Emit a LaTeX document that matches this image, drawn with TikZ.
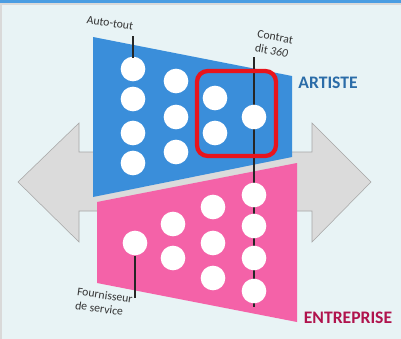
\documentclass[tikz,border=0pt]{standalone}
\usepackage{fontspec}
\setmainfont{Carlito}
\definecolor{panel}{HTML}{E8F3F5}
\definecolor{topbar}{HTML}{4A9DE2}
\definecolor{artblue}{HTML}{3A8EDA}
\definecolor{entpink}{HTML}{F462A8}
\definecolor{artiste}{HTML}{2B6CA8}
\definecolor{entreprise}{HTML}{B0134D}
\definecolor{boxred}{HTML}{E8141C}
\begin{document}
\begin{tikzpicture}[x=0.75pt,y=-0.75pt]
  \tikzstyle{dot}=[circle,fill=white,inner sep=0pt,minimum size=18.5pt]
  \tikzstyle{note}=[font=\fontsize{8.8}{10.5}\selectfont,text=black!80,align=left,inner sep=0pt]
  \tikzstyle{side}=[font=\fontsize{13.2}{14}\selectfont\bfseries,inner sep=0pt]
  \tikzstyle{pointer}=[black!85,line width=1.2pt]

  \useasboundingbox (0,0) rectangle (401,339);
  \fill[panel] (0,0) rectangle (401,339);
  \fill[black!15] (0,0) rectangle (2.5,339);
  \fill[black!15] (0,3) rectangle (401,5);
  \fill[topbar] (0,0) rectangle (401,3.5);

  \filldraw[fill=black!14,draw=black!35,line width=0.4pt]
    (18,182) -- (79,123) -- (79,152) -- (312,152) -- (312,123) -- (371,182)
    -- (312,242) -- (312,211) -- (79,211) -- (79,242) -- cycle;

  \fill[artblue] (93,37) -- (292,76) -- (292,157) -- (93,197) -- cycle;
  \fill[entpink] (97,202) -- (297,163) -- (297,322) -- (97,283) -- cycle;

  \coordinate (top360) at (254,57);
  \coordinate (end360) at (254,307);
  \draw[pointer] (top360) -- (end360);

  \foreach \n/\x/\y in {a1/133/69, a2/133/99, a3/133/133, a4/133/163,
                        a5/176/81, a6/176/117, a7/176/152,
                        a8/215/98, a9/215/133, a10/254/117}
    \node[dot] (\n) at (\x,\y) {};
  \foreach \n/\x/\y in {e1/135/243, e2/173/224, e3/173/258,
                        e4/213/207, e5/213/243, e6/213/278,
                        e7/254/195, e8/254/226, e9/254/258, e10/254/291}
    \node[dot] (\n) at (\x,\y) {};

  \draw[boxred,line width=3.2pt,rounded corners=8pt] (197,71) rectangle (276,156);

  \node[note,rotate=-9] (autotout) at (110,23) {Auto-tout};
  \coordinate (autofoot) at (133,36);
  \draw[pointer] (autofoot) -- ([yshift=-1.5pt]a1.north);

  \node[note,rotate=-10] (contrat) at (274,44) {Contrat\\dit \textit{360}};

  \node[note,rotate=-8] (fournisseur) at (104,302) {Fournisseur\\de service};
  \coordinate (fsfoot) at (135,298);
  \draw[pointer] (e1.south) -- (fsfoot);

  \node[side,text=artiste] (artiste) at (328,83) {ARTISTE};
  \node[side,text=entreprise] (entreprise) at (348,318) {ENTREPRISE};
\end{tikzpicture}
\end{document}
